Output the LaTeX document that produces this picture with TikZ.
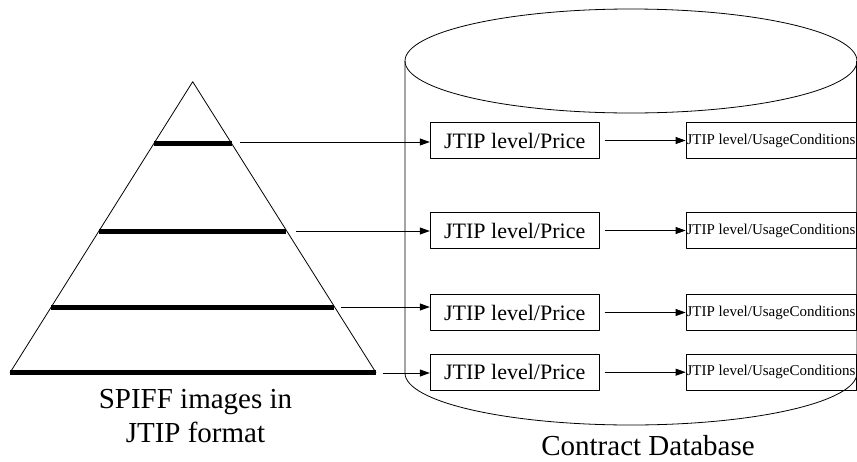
\documentclass[tikz,border=0pt]{standalone}
\usepackage{fontspec}
\setmainfont{Liberation Serif}
\usetikzlibrary{arrows.meta}
\tikzset{outline/.style={draw=black,line width=.8pt},
 levelbar/.style={draw=black,line width=5pt},
 pricebox/.style={draw=black,line width=.8pt,minimum width=169pt,minimum height=36pt,inner sep=0pt,font=\fontsize{22}{26}\selectfont},
 usagebox/.style={draw=black,line width=.8pt,minimum width=170pt,minimum height=36pt,inner sep=0pt,font=\fontsize{15}{18}\selectfont},
 link/.style={line width=.8pt,-{Triangle[length=10pt,width=7pt]}},
 every picture/.style={line join=round}}

\begin{document}
\begin{tikzpicture}[x=1pt,y=-1pt]
\useasboundingbox (0,0) rectangle (857,461);
% database cylinder
\draw[outline] (631,61) ellipse [x radius=226,y radius=52];
\draw[outline] (405,61) -- (405,373) arc[start angle=180,end angle=0,x radius=226,y radius=52] -- (856.5,61);
% pyramid
\draw[outline] (10,372.7) -- (192.7,81.7) -- (376,372.7);
\draw[levelbar] (153.8,143.7) -- (231.6,143.7);
\draw[levelbar] (99,231) -- (286.4,231);
\draw[levelbar] (51,307.3) -- (334.4,307.3);
\draw[levelbar] (10,372.7) -- (376,372.7);
\coordinate (s1) at (240,142);
\coordinate (s2) at (296,231);
\coordinate (s3) at (341,307);
\coordinate (s4) at (382.7,373);
% levels
\node[pricebox] (p1) at (514.7,140.5) {JTIP level/Price};
\node[pricebox] (p2) at (514.7,230.5) {JTIP level/Price};
\node[pricebox] (p3) at (514.7,312.5) {JTIP level/Price};
\node[pricebox] (p4) at (514.7,372.2) {JTIP level/Price};
\node[usagebox] (u1) at (771,140.5) {JTIP level/UsageConditions};
\node[usagebox] (u2) at (771,230.5) {JTIP level/UsageConditions};
\node[usagebox] (u3) at (771,312.5) {JTIP level/UsageConditions};
\node[usagebox] (u4) at (771,372.2) {JTIP level/UsageConditions};
\foreach \i in {1,2,3,4} {
  \draw[link] (s\i) -- (s\i -| p\i.west);
  \draw[link] ([xshift=5pt]p\i.east) -- (u\i.west);
}
% captions
\node[font=\fontsize{29}{34}\selectfont,align=center] (pyrlabel) at (195.5,416.5) {SPIFF images in\\JTIP format};
\node[font=\fontsize{29}{34}\selectfont,inner sep=1pt] (dblabel) at (648,445.5) {Contract Database};
\end{tikzpicture}
\end{document}
